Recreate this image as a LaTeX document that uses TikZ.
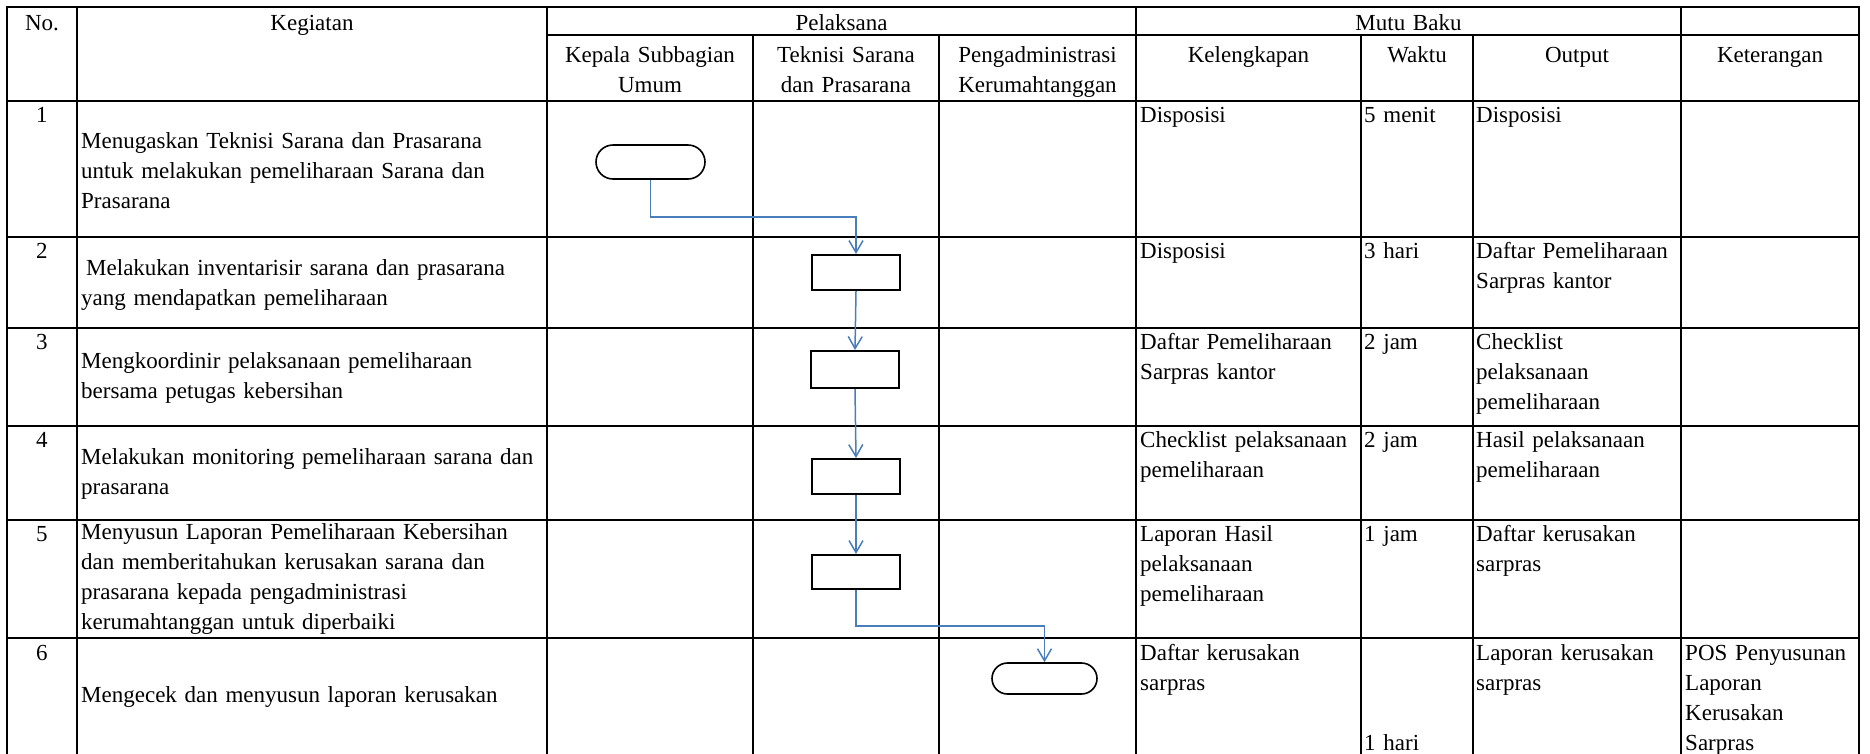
\documentclass[tikz,border=0pt]{standalone}
\usepackage{fontspec}
\setmainfont{Liberation Serif}
\usetikzlibrary{arrows.meta,shapes.misc}
\definecolor{conblue}{RGB}{74,126,187}
\newcommand{\fsz}{\fontsize{23}{30}\selectfont}
\begin{document}
\begin{tikzpicture}[x=1pt,y=-1pt,
 grid/.style={line width=2.5pt, line cap=rect},
 txt/.style={font=\fsz, inner sep=0pt},
 cell/.style={txt, anchor=base west, align=left},
 keg/.style={txt, anchor=west, align=left, text width=462pt},
 hdr/.style={txt, anchor=base, align=center},
 procbox/.style={draw, line width=2pt, minimum width=88pt, minimum height=35pt, inner sep=0pt},
 term/.style={draw, rounded rectangle, line width=1.6pt, inner sep=0pt},
 conn/.style={draw=conblue, line width=1.5pt, -{Straight Barb[length=12pt,width=14pt,line width=1.5pt]}},
]
\useasboundingbox (0,0) rectangle (1870,753);
\clip (0,0) rectangle (1870,753);

% ---------- grid ----------
\foreach \yy in {7,101,237,328,426,520,638}
  \draw[grid] (7,\yy) -- (1859,\yy);
\draw[grid] (547,35) -- (1859,35);
\foreach \xx in {7,77,547,1136,1681,1859}
  \draw[grid] (\xx,7) -- (\xx,760);
\foreach \xx in {753,939,1361,1473}
  \draw[grid] (\xx,35) -- (\xx,760);

% ---------- header ----------
\node[hdr, text width=66pt]  (hno)   at (42,30)     {No.};
\node[hdr, text width=460pt] (hkeg)  at (312,30)    {Kegiatan};
\node[hdr, text width=580pt] (hpel)  at (841.5,30)  {Pelaksana};
\node[hdr, text width=540pt] (hmutu) at (1408.5,30) {Mutu Baku};
\node[hdr, text width=200pt] (hkep)  at (650,62)    {Kepala Subbagian\\Umum};
\node[hdr, text width=184pt] (htek)  at (846,62)    {Teknisi Sarana\\dan Prasarana};
\node[hdr, text width=195pt] (hpeng) at (1037.5,62) {Pengadministrasi\\Kerumahtanggan};
\node[hdr, text width=220pt] (hkel)  at (1248.5,62) {Kelengkapan};
\node[hdr, text width=108pt] (hwak)  at (1417,62)   {Waktu};
\node[hdr, text width=204pt] (hout)  at (1577,62)   {Output};
\node[hdr, text width=174pt] (hket)  at (1770,62)   {Keterangan};

% ---------- numbers ----------
\node[hdr, text width=60pt] (n1) at (42,122) {1};
\node[hdr, text width=60pt] (n2) at (42,258) {2};
\node[hdr, text width=60pt] (n3) at (42,349) {3};
\node[hdr, text width=60pt] (n4) at (42,447) {4};
\node[hdr, text width=60pt] (n5) at (42,541) {5};
\node[hdr, text width=60pt] (n6) at (42,660) {6};

% ---------- kegiatan ----------
\node[keg] (k1) at (81,171) {Menugaskan Teknisi Sarana dan Prasarana\\untuk melakukan pemeliharaan Sarana dan\\Prasarana};
\node[keg] (k2) at (81,285) {\hspace{5pt}Melakukan inventarisir sarana dan prasarana\\yang mendapatkan pemeliharaan};
\node[keg] (k3) at (81,378) {Mengkoordinir pelaksanaan pemeliharaan\\bersama petugas kebersihan};
\node[keg] (k4) at (81,474) {Melakukan monitoring pemeliharaan sarana dan\\prasarana};
\node[keg] (k5) at (81,579) {Menyusun Laporan Pemeliharaan Kebersihan\\dan memberitahukan kerusakan sarana dan\\prasarana kepada pengadministrasi\\kerumahtanggan untuk diperbaiki};
\node[keg] (k6) at (81,697) {Mengecek dan menyusun laporan kerusakan};

% ---------- kelengkapan ----------
\node[cell, text width=220pt] (l1) at (1140,122) {Disposisi};
\node[cell, text width=220pt] (l2) at (1140,258) {Disposisi};
\node[cell, text width=220pt] (l3) at (1140,349) {Daftar Pemeliharaan\\Sarpras kantor};
\node[cell, text width=220pt] (l4) at (1140,447) {Checklist pelaksanaan\\pemeliharaan};
\node[cell, text width=220pt] (l5) at (1140,541) {Laporan Hasil\\pelaksanaan\\pemeliharaan};
\node[cell, text width=220pt] (l6) at (1140,660) {Daftar kerusakan\\sarpras};

% ---------- waktu ----------
\node[cell, text width=108pt] (w1) at (1364,122) {5 menit};
\node[cell, text width=108pt] (w2) at (1364,258) {3 hari};
\node[cell, text width=108pt] (w3) at (1364,349) {2 jam};
\node[cell, text width=108pt] (w4) at (1364,447) {2 jam};
\node[cell, text width=108pt] (w5) at (1364,541) {1 jam};
\node[cell, text width=108pt] (w6) at (1364,750) {1 hari};

% ---------- output ----------
\node[cell, text width=204pt] (o1) at (1476,122) {Disposisi};
\node[cell, text width=204pt] (o2) at (1476,258) {Daftar Pemeliharaan\\Sarpras kantor};
\node[cell, text width=204pt] (o3) at (1476,349) {Checklist\\pelaksanaan\\pemeliharaan};
\node[cell, text width=204pt] (o4) at (1476,447) {Hasil pelaksanaan\\pemeliharaan};
\node[cell, text width=204pt] (o5) at (1476,541) {Daftar kerusakan\\sarpras};
\node[cell, text width=204pt] (o6) at (1476,660) {Laporan kerusakan\\sarpras};

% ---------- keterangan ----------
\node[cell, text width=174pt] (t6) at (1685,660) {POS Penyusunan\\Laporan\\Kerusakan\\Sarpras};

% ---------- flow shapes ----------
\node[term, minimum width=109pt, minimum height=34pt] (p1) at (650.5,162) {};
\node[procbox] (b2) at (856,272.5) {};
\node[procbox, minimum height=37pt] (b3) at (855,369.5) {};
\node[procbox] (b4) at (856,476.5) {};
\node[procbox, minimum height=34pt] (b5) at (856,572) {};
\node[term, minimum width=105pt, minimum height=31pt] (p6) at (1044.5,678.5) {};

\coordinate (e1) at (650.5,217);
\coordinate (e5) at (856,626);

% ---------- connectors ----------
\draw[conn] (p1.south) -- (e1) -| (b2.north);
\draw[conn] (b2.south) -- (b3.north);
\draw[conn] (b3.south) -- (b4.north);
\draw[conn] (b4.south) -- (b5.north);
\draw[conn] (b5.south) -- (e5) -| (p6.north);
\end{tikzpicture}
\end{document}
